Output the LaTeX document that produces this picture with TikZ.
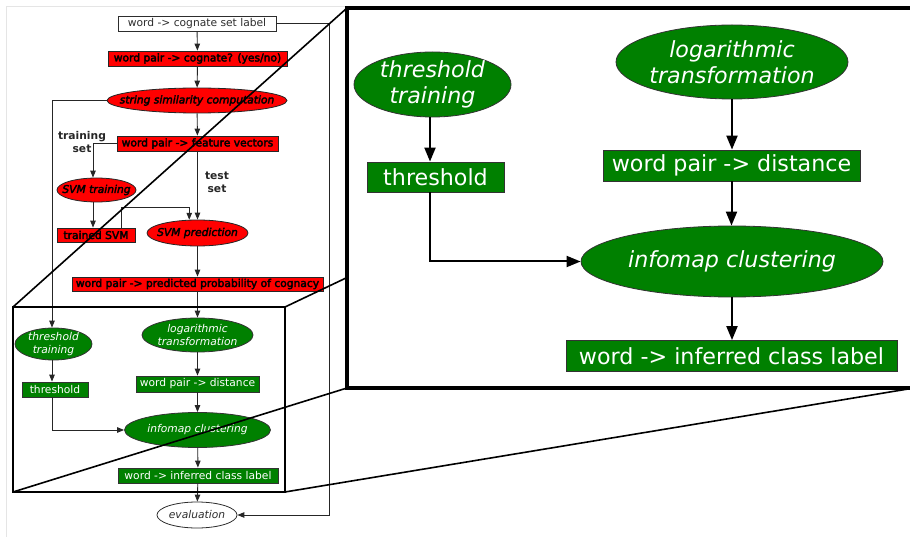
\documentclass[tikz,border=0pt]{standalone}
\usepackage{fontspec}
\setmainfont{DejaVu Sans}
\newfontfamily\heavyfont[FakeBold=3]{DejaVu Sans}
\usetikzlibrary{shapes.geometric,arrows.meta,calc}

\definecolor{nodered}{RGB}{255,0,0}
\definecolor{nodegreen}{RGB}{0,128,0}
\definecolor{ink}{RGB}{45,45,45}

\newcommand\smallfs{\fontsize{10.7}{12.8}\selectfont}
\newcommand\largefs{\fontsize{22.2}{26.5}\selectfont}

\tikzset{
  box/.style={rectangle, inner sep=0pt, line width=0.8pt},
  ell/.style={ellipse, inner sep=0pt, line width=0.8pt},
  % left, small flowchart
  plainbox/.style={box, draw=ink, fill=white, text=ink, font=\smallfs},
  redbox/.style={box, draw=black!85, fill=nodered, text=black, font=\smallfs\heavyfont},
  redell/.style={ell, draw=black!85, fill=nodered},
  redtxt/.style={text=black, font=\smallfs\heavyfont\itshape},
  greenbox/.style={box, draw=black!80, fill=nodegreen, text=white, font=\smallfs},
  greenell/.style={ell, draw=black!80, fill=nodegreen},
  greentxt/.style={text=white, font=\smallfs\itshape, align=center},
  plainell/.style={ell, draw=ink, fill=white},
  plaintxt/.style={text=ink, font=\smallfs\itshape},
  setlabel/.style={text=black!85, font=\smallfs\bfseries, align=center},
  sarr/.style={draw=black!85, line width=0.9pt, -{Triangle[length=7pt,width=5.5pt]}},
  % right, enlarged panel
  Lgreenbox/.style={box, draw=black!80, fill=nodegreen, text=white, font=\largefs},
  Lgreenell/.style={ell, draw=black!80, fill=nodegreen},
  Lgreentxt/.style={text=white, font=\largefs\itshape, align=center},
  larr/.style={draw=black, line width=2pt, -{Triangle[length=14pt,width=11pt]}},
  persp/.style={draw=black, line width=1.6pt},
}

\begin{document}
\begin{tikzpicture}[x=1pt, y=-1pt]
\useasboundingbox (0,0) rectangle (910,537);
\fill[white] (0,0) rectangle (910,537);
\draw[black!10, line width=0.6pt] (6,537) -- (6,6) -- (910,6);

% ---------- pipeline ----------
\node[plainbox, minimum width=158pt, minimum height=15pt] (a1) at (197,23.5) {word -> cognate set label};
\node[redbox, minimum width=179pt, minimum height=15pt] (a2) at (197.5,58.5) {word pair -> cognate? (yes/no)};
\node[redell, minimum width=180pt, minimum height=25pt,
      label={[redtxt]center:string similarity computation}] (sim) at (197,100.5) {};
\node[redbox, minimum width=161pt, minimum height=15pt] (fv) at (197.5,143.5) {word pair -> feature vectors};
\node[setlabel] (trs) at (82,142) {training\\set};
\node[setlabel] (tss) at (217,182) {test\\set};
\node[redell, minimum width=79pt, minimum height=24pt,
      label={[redtxt]center:SVM training}] (svmt) at (96.5,190) {};
\node[redbox, minimum width=78pt, minimum height=14pt] (tsvm) at (96,235) {trained SVM};
\node[redell, minimum width=101pt, minimum height=26pt,
      label={[redtxt]center:SVM prediction}] (svmp) at (197.5,233) {};
\node[redbox, minimum width=251pt, minimum height=14pt] (pp) at (197.5,284) {word pair -> predicted probability of cognacy};

\node[greenell, minimum width=77pt, minimum height=32pt,
      label={[greentxt]center:threshold\\training}] (tt) at (53.5,344) {};
\node[greenbox, minimum width=66pt, minimum height=15pt] (thr) at (55,389.5) {threshold};
\node[greenell, minimum width=111pt, minimum height=34pt,
      label={[greentxt]center:logarithmic\\transformation}] (log) at (197.5,335) {};
\node[greenbox, minimum width=123pt, minimum height=16pt] (dist) at (197.5,384) {word pair -> distance};
\node[greenell, minimum width=146pt, minimum height=35pt,
      label={[greentxt]center:infomap clustering}] (info) at (197.5,430) {};
\node[greenbox, minimum width=160pt, minimum height=15pt] (inf) at (198,475.5) {word -> inferred class label};
\node[plainell, minimum width=80pt, minimum height=26pt,
      label={[plaintxt]center:evaluation}] (eval) at (197,515) {};

\draw[sarr] (a1) -- (a2);
\draw[sarr] (a2) -- (sim);
\draw[sarr] (sim) -- (fv);
\draw[sarr] (sim.west) -| ([xshift=-1.5pt]tt.north);
\draw[sarr] (fv.west) -| ([xshift=-3.5pt]svmt.north);
\draw[sarr] (fv) -- (svmp);
\draw[sarr] ([xshift=-3.5pt]svmt.south) -- ([xshift=-3pt]tsvm.north);
\draw[sarr] ([xshift=25pt]tsvm.north) -- ++(0,-20) -| (svmp.122);
\draw[sarr] (svmp) -- (pp);
\draw[sarr] (pp) -- (log);
\draw[sarr] ([xshift=-1.5pt]tt.south) -- ([xshift=-3pt]thr.north);
\draw[sarr] ([xshift=-3pt]thr.south) |- (info.west);
\draw[sarr] (log) -- (dist);
\draw[sarr] (dist) -- (info);
\draw[sarr] (info) -- (inf);
\draw[sarr] (inf) -- (eval);
\draw[sarr] (a1.east) -- ++(53.5,0) |- (eval.east);

% ---------- zoom frame ----------
\coordinate (sTL) at (13,307);
\coordinate (sTR) at (285,307);
\coordinate (sBL) at (13,492);
\coordinate (sBR) at (285,492);
\coordinate (bTL) at (347,8);
\coordinate (bTR) at (914,8);
\coordinate (bBL) at (347,388);
\coordinate (bBR) at (914,388);

\draw[line width=2.2pt] (sTL) rectangle (sBR);
\draw[persp] (sTL) -- (bTL);
\draw[persp] (sBL) -- (bBL);
\draw[persp] (sTR) -- (bTR);
\draw[persp] (sBR) -- (bBR);
\draw[line width=4pt, fill=white] (bTL) rectangle (bBR);

% ---------- enlarged clustering stage ----------
\node[Lgreenell, minimum width=157pt, minimum height=65pt,
      label={[Lgreentxt]center:threshold\\training}] (Ltt) at (432.5,84.5) {};
\node[Lgreenbox, minimum width=137pt, minimum height=30pt] (Lthr) at (435.5,177) {threshold};
\node[Lgreenell, minimum width=232pt, minimum height=74pt,
      label={[Lgreentxt]center:logarithmic\\transformation}] (Llog) at (732,62) {};
\node[Lgreenbox, minimum width=257pt, minimum height=31pt] (Ldist) at (731.5,165.5) {word pair -> distance};
\node[Lgreenell, minimum width=302pt, minimum height=71pt,
      label={[Lgreentxt]center:infomap clustering}] (Linfo) at (732,261.5) {};
\node[Lgreenbox, minimum width=331pt, minimum height=31pt] (Linf) at (731.5,356) {word -> inferred class label};

\draw[larr] ([xshift=-2.5pt]Ltt.south) -- ([xshift=-5.5pt]Lthr.north);
\draw[larr] ([xshift=-5.5pt]Lthr.south) |- (Linfo.west);
\draw[larr] (Llog.south) -- (Llog.south |- Ldist.north);
\draw[larr] (Ldist.south) -- (Ldist.south |- Linfo.north);
\draw[larr] (Linfo.south) -- (Linfo.south |- Linf.north);
\end{tikzpicture}
\end{document}
